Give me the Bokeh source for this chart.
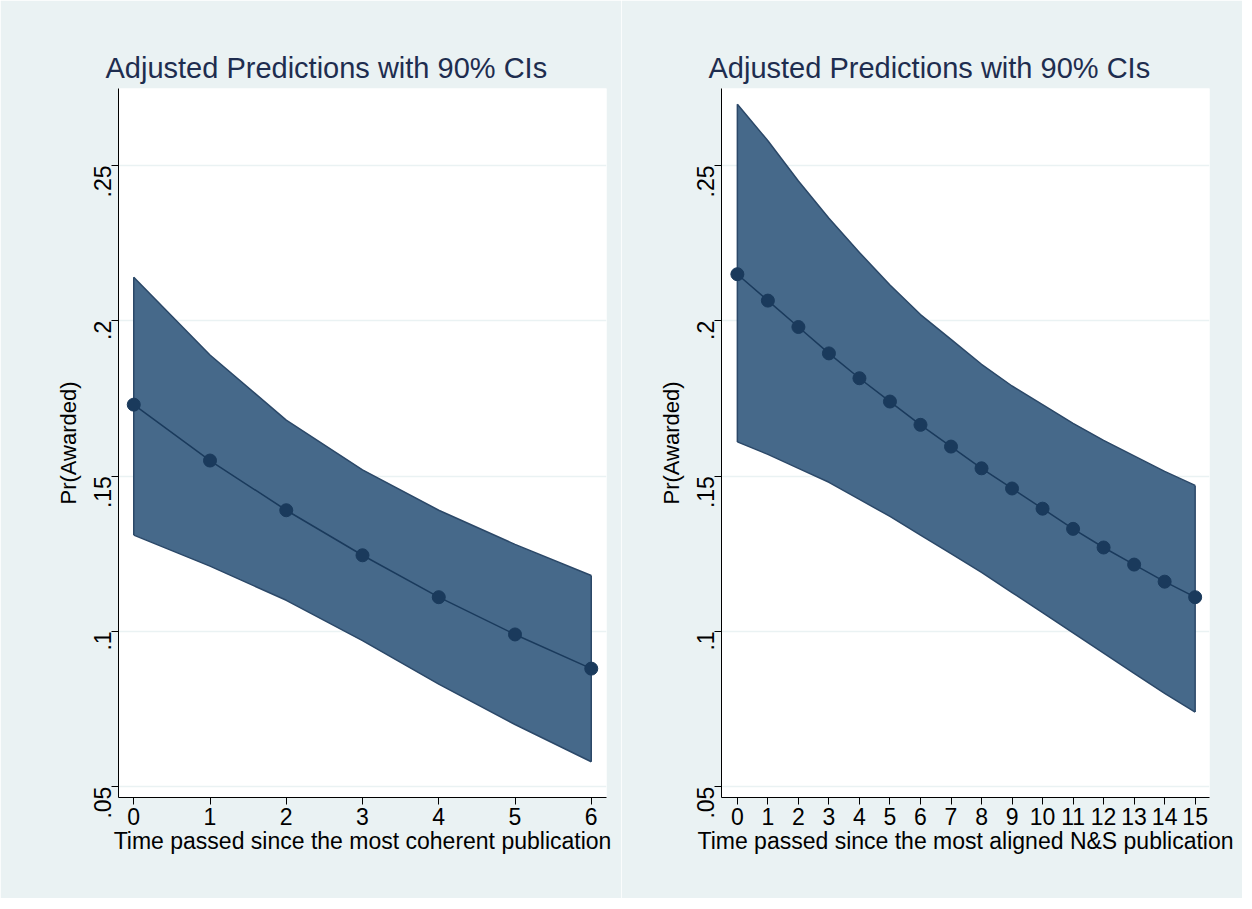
import math
from bokeh.plotting import figure
from bokeh.layouts import row
from bokeh.models import FixedTicker
from bokeh.embed import file_html
from bokeh.resources import INLINE

# left panel: coherent publication
x_left = [0, 1, 2, 3, 4, 5, 6]
mean_left = [0.173, 0.155, 0.139, 0.1245, 0.111, 0.099, 0.088]
upper_left = [0.214, 0.189, 0.168, 0.152, 0.139, 0.128, 0.118]
lower_left = [0.131, 0.121, 0.110, 0.097, 0.083, 0.070, 0.058]

# right panel: aligned N&S publication
x_right = list(range(16))
mean_right = [0.215, 0.2065, 0.198, 0.1895, 0.1815, 0.174, 0.1665, 0.1595,
              0.1525, 0.146, 0.1395, 0.133, 0.127, 0.1215, 0.116, 0.111]
upper_right = [0.2697, 0.258, 0.245, 0.233, 0.222, 0.2115, 0.202, 0.194,
               0.186, 0.179, 0.173, 0.167, 0.1615, 0.1565, 0.1515, 0.147]
lower_right = [0.161, 0.157, 0.1525, 0.148, 0.1425, 0.137, 0.131, 0.125,
               0.119, 0.1125, 0.106, 0.0995, 0.093, 0.0865, 0.080, 0.074]

y_ticks = [0.05, 0.1, 0.15, 0.2, 0.25]
y_labels = {0.05: ".05", 0.1: ".1", 0.15: ".15", 0.2: ".2", 0.25: ".25"}

BG = "#EAF2F3"
FILL = "#46698A"
EDGE = "#2B4868"
DOT = "#1A3A5C"
FONT = "Liberation Sans"


def panel(xs, mean, lo, hi, xlabel, xr, left_border, right_border):
    p = figure(width=621, height=898, output_backend="svg", toolbar_location=None,
               x_range=xr, y_range=(0.0465, 0.2748),
               min_border_left=left_border, min_border_right=right_border,
               min_border_top=88, min_border_bottom=101,
               title="Adjusted Predictions with 90% CIs")
    p.border_fill_color = BG
    p.background_fill_color = "white"
    p.outline_line_color = None
    p.title.text_font = FONT
    p.title.text_font_size = "29px"
    p.title.text_font_style = "normal"
    p.title.text_color = "#1E2D4F"
    p.title.align = "left"
    p.title.offset = -13

    p.varea(x=xs, y1=lo, y2=hi, fill_color=FILL)
    p.line(xs, hi, line_color=EDGE, line_width=1.5)
    p.line(xs, lo, line_color=EDGE, line_width=1.5)
    p.segment(x0=[xs[0], xs[-1]], y0=[lo[0], lo[-1]], x1=[xs[0], xs[-1]], y1=[hi[0], hi[-1]],
              line_color=EDGE, line_width=1.5)
    p.line(xs, mean, line_color=DOT, line_width=1.5)
    p.scatter(xs, mean, size=13, fill_color=DOT, line_color=DOT)

    p.xgrid.visible = False
    p.ygrid.ticker = FixedTicker(ticks=y_ticks)
    p.ygrid.grid_line_color = BG
    p.ygrid.grid_line_width = 1.5

    p.xaxis.ticker = FixedTicker(ticks=xs)
    p.xaxis.axis_label = xlabel
    p.yaxis.ticker = FixedTicker(ticks=y_ticks)
    p.yaxis.major_label_overrides = y_labels
    p.yaxis.major_label_orientation = math.pi / 2
    p.yaxis.axis_label = "Pr(Awarded)"
    for ax in (p.xaxis, p.yaxis):
        ax.axis_line_color = "black"
        ax.major_tick_line_color = "black"
        ax.major_tick_out = 7
        ax.major_tick_in = 0
        ax.minor_tick_line_color = None
        ax.major_label_text_font = FONT
        ax.major_label_text_font_size = "23px"
        ax.major_label_text_color = "black"
        ax.axis_label_text_font = FONT
        ax.axis_label_text_font_style = "normal"
        ax.axis_label_text_color = "black"
    p.xaxis.axis_label_text_font_size = "23px"
    p.xaxis.axis_label_standoff = 0
    p.xaxis.major_label_standoff = 3
    p.yaxis.major_label_standoff = 9
    p.yaxis.axis_label_text_font_size = "22px"
    p.yaxis.axis_label_standoff = 2
    return p


p1 = panel(x_left, mean_left, lower_left, upper_left,
           "Time passed since the most coherent publication", (-0.2, 6.2), 118, 15)
p2 = panel(x_right, mean_right, lower_right, upper_right,
           "Time passed since the most aligned N&S publication", (-0.52, 15.47), 100, 33)

p = row(p1, p2, spacing=0)
open("out.html", "w").write(file_html(p, INLINE))
